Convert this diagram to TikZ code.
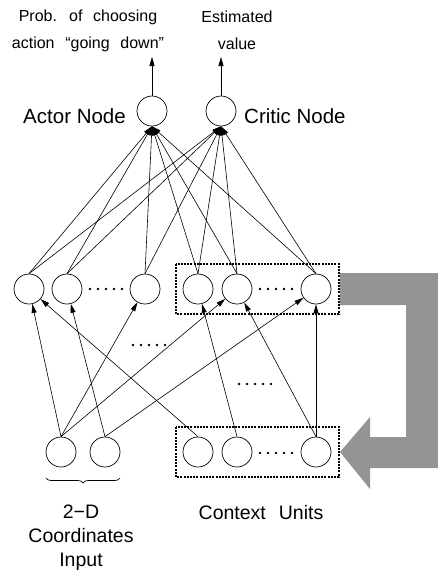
\documentclass[tikz,border=0pt]{standalone}
\usepackage{fontspec}
\setmainfont{Liberation Sans}
\newfontfamily\widefont[WordSpace=2.4]{Liberation Sans}
\usepackage{tikz}
\usetikzlibrary{arrows.meta,decorations.pathreplacing}

% a row of five dots centred on (#1,#2)
\newcommand{\fivedots}[2]{%
  \foreach \k in {0,...,4} {\fill ({#1-16+8*\k},#2) circle (1.4pt);}}

\begin{document}
\begin{tikzpicture}[x=1pt,y=-1pt,
    unit/.style={draw, circle, minimum size=30pt, inner sep=0pt, line width=0.7pt},
    link/.style={-{Triangle[length=9pt,width=5pt]}, line width=0.6pt},
    dotbox/.style={line width=2pt, dash pattern=on 2pt off 1.2pt},
    feedback/.style={fill=black!42},
    toplbl/.style={inner sep=0pt, align=center, font=\widefont\fontsize{16}{27}\selectfont},
    namelbl/.style={inner sep=0pt, font=\fontsize{20.5}{24}\selectfont},
    lowlbl/.style={inner sep=0pt, align=center, font=\widefont\fontsize{19.5}{24}\selectfont}]
    \useasboundingbox (0,0) rectangle (438,571);

    % ---- Output layer ----
    \node[unit] (actor) at (152,111) {};
    \node[unit] (critic) at (221,111) {};
    \coordinate (actorout) at (152,57);
    \coordinate (criticout) at (221,57);
    \draw[link] (actor) -- (actorout);
    \draw[link] (critic) -- (criticout);

    \node[toplbl] (probtxt) at (88,31) {Prob. of choosing\\action “going down”};
    \node[toplbl] (valuetxt) at (237,30) {Estimated\\value};
    \node[namelbl, anchor=base east] (actorlbl) at (126,123) {Actor Node};
    \node[namelbl, anchor=base west] (criticlbl) at (244,123) {Critic Node};

    % ---- Hidden layer ----
    \foreach \n/\x in {1/29,2/67,3/145,4/198,5/237,6/316}
        \node[unit] (h\n) at (\x,289) {};
    \fivedots{106}{289}
    \fivedots{276}{289}

    % hidden -> actor / critic, all meeting at the bottom of the output units
    \foreach \n in {1,...,6} {
        \draw[link] (h\n.north) -- (actor.south);
        \draw[link] (h\n.north) -- (critic.south);
    }

    % ---- Input and context units ----
    \node[unit] (in1) at (61,452) {};
    \node[unit] (in2) at (105,452) {};
    \node[unit] (c1) at (198,452) {};
    \node[unit] (c2) at (237,452) {};
    \node[unit] (c3) at (316,452) {};
    \fivedots{276}{453}

    % inputs -> hidden
    \foreach \s/\t in {in1/h1,in1/h3,in1/h5,in2/h2,in2/h6,c1/h1,c2/h4,c3/h5,c3/h6}
        \draw[link] (\s.north) -- (\t);
    \fivedots{149}{345}
    \fivedots{255}{384}

    % Copy-back arrow
    \fill[feedback] (340,273) -- (438,273) -- (438,468) -- (370,468) -- (370,489)
        -- (340,452) -- (370,417) -- (370,437) -- (406,437) -- (406,305)
        -- (340,305) -- cycle;

    \draw[dotbox] (176,264) rectangle (339,314);
    \draw[dotbox] (176,427) rectangle (339,477);

    % Labels underneath
    \draw[line width=0.7pt, decorate, decoration={brace, mirror, amplitude=5pt}]
        (46,478) -- (120,478);
    \node[lowlbl] (inputlbl) at (81,538) {2−D\\Coordinates\\Input};
    \node[lowlbl, anchor=base] (contextlbl) at (261,519) {Context Units};
\end{tikzpicture}
\end{document}
